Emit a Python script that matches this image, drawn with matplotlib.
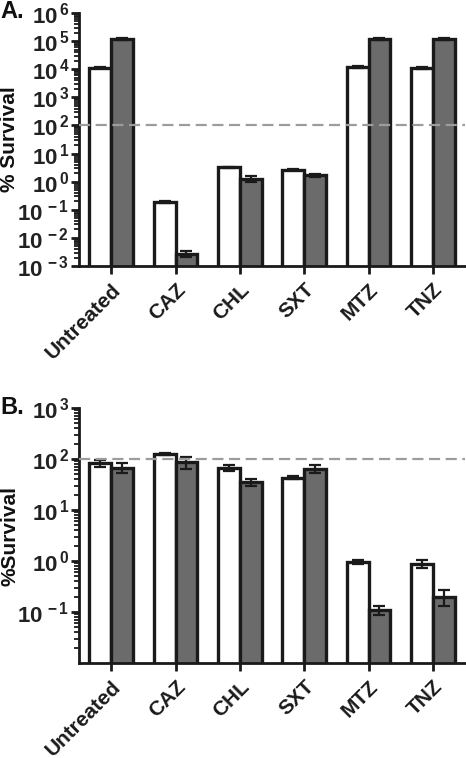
import numpy as np
import matplotlib
matplotlib.use("Agg")
import matplotlib.pyplot as plt
from matplotlib.ticker import LogLocator, FixedLocator, FixedFormatter, NullFormatter

plt.rcParams['font.family'] = ['Liberation Sans', 'DejaVu Sans']
plt.rcParams['font.weight'] = 'bold'
plt.rcParams['mathtext.fontset'] = 'custom'
plt.rcParams['mathtext.rm'] = 'Liberation Sans:bold'
plt.rcParams['mathtext.it'] = 'Liberation Sans:bold'
plt.rcParams['mathtext.bf'] = 'Liberation Sans:bold'

categories = ["Untreated", "CAZ", "CHL", "SXT", "MTZ", "TNZ"]

# panel A values (% survival)
a_white = [1.15e4, 0.19, 3.2, 2.7, 1.2e4, 1.1e4]
a_white_err = [800, 0.02, 0.2, 0.2, 900, 1200]
a_gray = [1.2e5, 0.0027, 1.25, 1.7, 1.2e5, 1.2e5]
a_gray_err = [6000, 0.0006, 0.3, 0.2, 6000, 6000]

# panel B values (% survival)
b_white = [83, 125, 68, 43, 0.96, 0.88]
b_white_err = [14, 5, 10, 3, 0.08, 0.15]
b_gray = [68, 86, 35, 64, 0.108, 0.20]
b_gray_err = [15, 22, 6, 11, 0.022, 0.07]

threshold = 100

gray = "#6b6b6b"
edge = "#1a1a1a"
W, H = 466, 758
fig = plt.figure(figsize=(W / 100, H / 100), dpi=100)


def panel(rect, white, werr, grey, gerr, ylim, labeled, ylabel, letter, letter_y):
    ax = fig.add_axes(rect)
    x = np.arange(len(categories))
    w = 0.34
    ax.bar(x - w / 2, white, w, color="white", edgecolor=edge, linewidth=2.4, zorder=2)
    ax.bar(x + w / 2, grey, w, color=gray, edgecolor=edge, linewidth=2.4, zorder=2)
    ax.errorbar(x - w / 2, white, yerr=werr, fmt="none", ecolor=edge,
                elinewidth=1.6, capsize=4, capthick=1.6, zorder=3)
    ax.errorbar(x + w / 2, grey, yerr=gerr, fmt="none", ecolor=edge,
                elinewidth=1.6, capsize=4, capthick=1.6, zorder=3)
    ax.axhline(threshold, color="#9c9c9c", linestyle=(0, (5, 2.5)), linewidth=1.6, zorder=4)
    ax.set_yscale("log")
    ax.set_ylim(*ylim)
    ax.set_xlim(-0.5, 5.5)
    ax.yaxis.set_major_locator(FixedLocator([10.0 ** e for e in labeled]))
    ax.yaxis.set_major_formatter(FixedFormatter([r"$10^{\,%d}$" % e for e in labeled]))
    ax.yaxis.set_minor_locator(LogLocator(base=10, subs=np.arange(2, 10), numticks=20))
    ax.yaxis.set_minor_formatter(NullFormatter())
    ax.set_xticks(x)
    ax.set_xticklabels(categories, rotation=45, ha="right", rotation_mode="anchor",
                       fontsize=15, fontweight="bold", color="#111111")
    for s in ["top", "right"]:
        ax.spines[s].set_visible(False)
    for s in ["left", "bottom"]:
        ax.spines[s].set_linewidth(2)
        ax.spines[s].set_color(edge)
    ax.tick_params(axis="y", which="major", length=6, width=2, labelsize=16, pad=1, colors=edge)
    ax.tick_params(axis="y", which="minor", length=3.5, width=1.3, colors=edge)
    ax.tick_params(axis="x", length=6, width=2, pad=4, colors=edge)
    for t in ax.get_yticklabels():
        t.set_color("#222222")
    yc = rect[1] + rect[3] / 2
    fig.text(10 / W, yc, ylabel, fontsize=15, fontweight="bold", rotation=90,
             ha="center", va="center", color="#111111")
    fig.text(0.0, letter_y, letter, fontsize=17, fontweight="bold", va="top", ha="left",
             color="#111111")
    return ax


panel([79 / W, 1 - 266 / H, 386 / W, 253 / H], a_white, a_white_err, a_gray, a_gray_err,
      (1e-3, 1e6), range(-3, 7), "% Survival", "A.", 1.0)
panel([79 / W, 1 - 663 / H, 386 / W, 255 / H], b_white, b_white_err, b_gray, b_gray_err,
      (1e-2, 1e3), range(-1, 4), "%Survival", "B.", 1 - 396 / H)

fig.savefig("out.png", dpi=100)
